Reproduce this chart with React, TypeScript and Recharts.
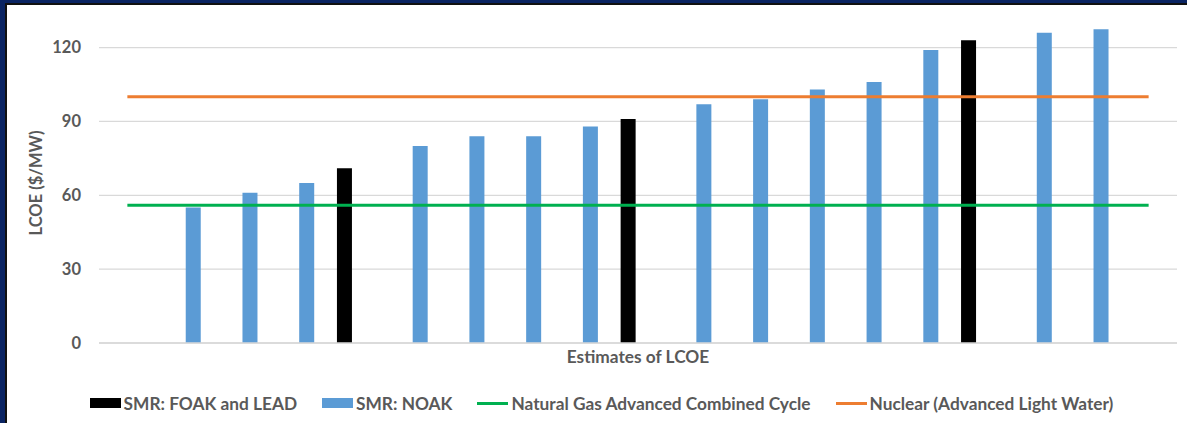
import React from 'react';
import { ComposedChart, Bar, Line, XAxis, YAxis, CartesianGrid, Legend } from 'recharts';

const categories = ['1','2','3','4','5','6','7','8','9','10','11','12','13','14','15','16','17','18','19'];
const foakValues: (number | null)[] = [null, null, null, null, 71, null, null, null, null, 91, null, null, null, null, null, 123, null, null, null];
const noakValues: (number | null)[] = [null, 55, 61, 65, null, 80, 84, 84, 88, null, 97, 99, 103, 106, 119, null, 126, 127.5, null];
const gasValues: number[] = categories.map(() => 56);
const nuclearValues: number[] = categories.map(() => 100);
const yTicks = [0, 30, 60, 90, 120];

const seriesNames = {
  foak: 'SMR: FOAK and LEAD',
  noak: 'SMR: NOAK',
  gas: 'Natural Gas Advanced Combined Cycle',
  nuclear: 'Nuclear (Advanced Light Water)',
};

const data = categories.map((c, i) => ({
  cat: c,
  foak: foakValues[i],
  noak: noakValues[i],
  gas: gasValues[i],
  nuclear: nuclearValues[i],
}));

const FONT = 'Lato, "Open Sans", sans-serif';
const TEXT = '#595959';

const legendItems = [
  { key: 'foak', label: seriesNames.foak, color: '#000000', type: 'rect' },
  { key: 'noak', label: seriesNames.noak, color: '#5B9BD5', type: 'rect' },
  { key: 'gas', label: seriesNames.gas, color: '#00B050', type: 'line' },
  { key: 'nuclear', label: seriesNames.nuclear, color: '#ED7D31', type: 'line' },
];

const LegendContent = () => (
  <div style={{ display: 'flex', justifyContent: 'center', alignItems: 'center', height: 26, gap: 25, paddingLeft: 16 }}>
    {legendItems.map((it) => (
      <div key={it.key} style={{ display: 'flex', alignItems: 'center' }}>
        <div style={{ width: 31, height: it.type === 'rect' ? 10 : 3, background: it.color, marginRight: 3 }} />
        <span style={{ fontFamily: FONT, fontWeight: 700, fontSize: 17.3, color: TEXT, whiteSpace: 'nowrap' }}>{it.label}</span>
      </div>
    ))}
  </div>
);

export default function App() {
  return (
    <div style={{ position: 'fixed', left: 0, top: 0, width: 1187, height: 423, background: '#0a2462', overflow: 'hidden' }}>
      <div style={{ position: 'absolute', left: 5, top: 3, right: 0, bottom: 0, background: '#111111' }} />
      <div style={{ position: 'absolute', left: 7, top: 5, right: 0, bottom: 0, background: '#ffffff' }} />
      <div style={{ position: 'absolute', left: 0, top: 0 }}>
        <ComposedChart
          width={1187}
          height={423}
          data={data}
          margin={{ top: 23, right: 10, bottom: 0, left: 0 }}
          barSize={15}
          barGap={4}
        >
          <CartesianGrid vertical={false} horizontalValues={yTicks} stroke="#D9D9D9" strokeWidth={1.3} />
          <XAxis
            dataKey="cat"
            tick={false}
            tickLine={false}
            axisLine={{ stroke: '#D9D9D9', strokeWidth: 1.3 }}
            height={54}
            label={{
              content: (props: any) => {
                const vb = props.viewBox;
                return (
                  <text x={vb.x + vb.width / 2} y={vb.y + 20} textAnchor="middle" fill={TEXT} fontFamily={FONT} fontWeight={700} fontSize={17.3}>
                    Estimates of LCOE
                  </text>
                );
              },
            }}
          />
          <YAxis
            domain={[0, 130]}
            ticks={yTicks}
            width={99}
            axisLine={false}
            tickLine={false}
            tickMargin={12}
            tick={{ fill: TEXT, fontFamily: FONT, fontWeight: 700, fontSize: 16.5 }}
            label={{
              content: (props: any) => {
                const vb = props.viewBox;
                const cx = vb.x + 36;
                const cy = vb.y + vb.height / 2;
                return (
                  <text x={cx} y={cy} transform={`rotate(-90 ${cx} ${cy})`} textAnchor="middle" dominantBaseline="central" fill={TEXT} fontFamily={FONT} fontWeight={700} fontSize={16.5}>
                    LCOE ($/MW)
                  </text>
                );
              },
            }}
          />
          <Legend verticalAlign="bottom" content={<LegendContent />} wrapperStyle={{ left: 0, width: 1187, height: 26, bottom: 7 }} />
          <Bar dataKey="foak" name={seriesNames.foak} fill="#000000" isAnimationActive={false} />
          <Bar dataKey="noak" name={seriesNames.noak} fill="#5B9BD5" isAnimationActive={false} />
          <Line dataKey="gas" name={seriesNames.gas} stroke="#00B050" strokeWidth={3} dot={false} activeDot={false} isAnimationActive={false} />
          <Line dataKey="nuclear" name={seriesNames.nuclear} stroke="#ED7D31" strokeWidth={3} dot={false} activeDot={false} isAnimationActive={false} />
        </ComposedChart>
      </div>
    </div>
  );
}
